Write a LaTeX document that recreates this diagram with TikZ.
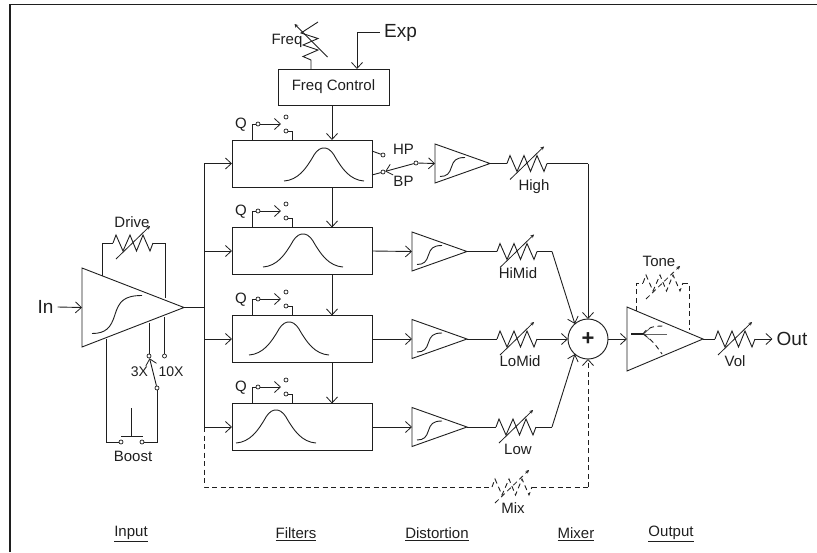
\documentclass[tikz,border=0pt]{standalone}
\usepackage{fontspec}
\setmainfont{Liberation Sans}
\usetikzlibrary{arrows.meta,calc}
\colorlet{ink}{black!88}
\tikzset{
  wire/.style={draw=ink,line width=0.9pt,line join=miter},
  conn/.style={wire,-{Straight Barb[length=6pt,width=11pt,line width=0.8pt]}},
  dashline/.style={dash pattern=on 5pt off 3.5pt},
  sweep/.style={draw=ink,line width=0.8pt,-{Stealth[length=3.5pt,width=3.5pt]}},
  term/.style={circle,draw=ink,line width=0.7pt,fill=white,inner sep=0pt,minimum size=4pt},
  fbox/.style={rectangle,draw=ink,line width=0.95pt,inner sep=0pt,outer sep=0pt,minimum width=140pt,minimum height=47pt},
  lab/.style={text=ink,inner sep=0pt,font=\fontsize{15}{17}\selectfont},
  biglab/.style={text=ink,inner sep=0pt,font=\fontsize{19}{21}\selectfont},
  sect/.style={text=ink,inner sep=0pt,font=\fontsize{15}{17}\selectfont},
  pics/rzig/.style={code={
    \coordinate (-in) at (0,0);
    \coordinate (-out) at (40,0);
    \draw[wire,pic actions] (0,0) -- (3,-8) -- (10,8) -- (17,-8) -- (23.5,8) -- (30,-8) -- (37,8) -- (40,0);
    \draw[sweep,pic actions] (3,16) -- (37,-17);
  }}
}
\newcommand{\amplifier}[6]{% name, x, yc, width, half height, scale
  \coordinate (#1-in) at (#2,#3);
  \coordinate (#1-out) at ($(#2,#3)+(#4,0)$);
  \draw[wire,shift={(#2,#3)}] (0,-#5) -- (#4,0) -- (0,#5) -- cycle;
  \draw[wire,shift={(#2,#3)},scale=#6] (5,13) .. controls (12,13) and (14.5,10) .. (16.5,3.5) .. controls (18.5,-3) and (21,-6) .. (30,-6);
}
\newcommand{\bell}[2]{% x peak, y base
  \draw[wire,shift={(#1,#2)}] (-40,0) .. controls (-26,-1) and (-18,-12) .. (-10,-26) .. controls (-6,-32) and (-3,-33) .. (0,-33) .. controls (3,-33) and (6,-32) .. (10,-26) .. controls (18,-12) and (26,-1) .. (40,0);
}
\newcommand{\qswitch}[2]{% name, top y
  \node[lab] (#1q) at (241,#2-15) {Q};
  \node[term] (#1a) at (258,#2-16) {};
  \node[term] (#1b) at (286,#2-23) {};
  \node[term] (#1c) at (286,#2-9) {};
  \coordinate (#1tip) at (281,#2-16);
  \draw[wire] (252,#2) |- (#1a);
  \draw[conn] (#1a) -- (#1tip);
  \draw[wire] (#1c) -| (292,#2);
}
\begin{document}
\begin{tikzpicture}[x=1pt,y=-1pt]
\useasboundingbox (0,0) rectangle (817,552);
% frame
\draw[draw=ink,line width=1.1pt] (10,552) -- (10,4.5) -- (817,4.5);

% input stage
\node[biglab] (in) at (45.5,307) {In};
\amplifier{ia}{82}{307.5}{102}{39.5}{2}
\draw[conn] ($(in.east)+(4,0)$) -- (ia-in);
\pic (rd) at (113,243) {rzig};
\node[lab] (drive) at (132,222) {Drive};
\draw[wire] (102,276) |- (rd-in);
\draw[wire] (rd-out) -| (165,298);
\node[term] (s3) at (149,356) {};
\node[term] (s10) at (164.5,356) {};
\node[term] (sc) at (157,388) {};
\node[term] (bl) at (121,442) {};
\node[term] (br) at (142,442) {};
\draw[wire] (149,323) -- (s3);
\draw[wire] (164.5,317) -- (s10);
\draw[conn] (sc) -- (s3);
\draw[wire] (sc) |- (br);
\draw[wire] (106,339) |- (bl);
\coordinate (bt) at (131,408);
\coordinate (bb) at (131,436);
\draw[wire] (bt) -- (bb);
\draw[wire] (121,436) -- (143,436);
\node[lab,font=\fontsize{14}{16}\selectfont] (l3x) at (139.5,372) {3X};
\node[lab,font=\fontsize{14}{16}\selectfont] (l10x) at (171,372) {10X};
\node[lab] (boost) at (133,456) {Boost};

% bus
\coordinate (bus) at (204,307.5);
\draw[draw=ink,line width=1.6pt] (ia-out) -- (bus);
\draw[wire] (204,163) -- (204,427);

% freq control
\node[rectangle,draw=ink,line width=0.95pt,inner sep=0pt,outer sep=0pt,minimum width=111pt,minimum height=36pt,lab] (fc) at (333.5,87) {Freq Control};

% filters
\node[fbox] (f1) at (302,163.5) {};
\node[fbox] (f2) at (302,251) {};
\node[fbox] (f3) at (302,339) {};
\node[fbox] (f4) at (302,427) {};
\bell{324}{181}
\bell{303}{267}
\bell{289}{355}
\bell{276}{443}
\foreach \n/\t in {a/140,b/227,c/315,d/403} {\qswitch{\n}{\t}}
\draw[conn] (204,163.5) -- (f1.west);
\draw[conn] (204,251) -- (f2.west);
\draw[conn] (204,339) -- (f3.west);
\draw[conn] (204,427) -- (f4.west);
\draw[conn] ($(fc.south)+(-1.5,0)$) -- ($(f1.north)+(30,0)$);
\draw[conn] ($(f1.south)+(30,0)$) -- ($(f2.north)+(30,0)$);
\draw[conn] ($(f2.south)+(30,0)$) -- ($(f3.north)+(30,0)$);
\draw[conn] ($(f3.south)+(30,0)$) -- ($(f4.north)+(30,0)$);

% freq pot and exp
\draw[wire] (311,69) -- (311,60) -- (303,56.5) -- (318,50) -- (303,45) -- (318,38.5) -- (301,33) -- (318,22);
\draw[sweep] (327.5,57) -- (294.5,24);
\node[lab] (lfreq) at (287,41) {Freq};
\node[biglab] (exp) at (400.5,33) {Exp};
\coordinate (ec) at (357,32.5);
\draw[wire] ($(exp.west)+(-4,-0.5)$) -- (ec);
\draw[conn] (ec) -- (ec |- fc.north);

% HP/BP
\node[term] (hp) at (383,155) {};
\node[term] (bp) at (383,172) {};
\node[term] (sw) at (416,163) {};
\draw[wire] (372,151) -- (hp);
\draw[wire] (372,175) -- (bp);
\node[lab] (lhp) at (403.5,149) {HP};
\node[lab] (lbp) at (403.5,181) {BP};

% distortion
\amplifier{d1}{435}{163.5}{55}{19.5}{1}
\amplifier{d2}{412}{251.5}{55}{19.5}{1}
\amplifier{d3}{412}{339}{55}{19.5}{1}
\amplifier{d4}{412}{427}{55}{19.5}{1}
\draw[conn] (sw) -- (bp);
\draw[conn] (sw) -- (d1-in);
\draw[conn] (f2.east) -- (d2-in);
\draw[conn] (f3.east) -- (d3-in);
\draw[conn] (f4.east) -- (d4-in);

% level pots
\pic (r1) at (507,163.5) {rzig};
\pic (r2) at (497,251.5) {rzig};
\pic (r3) at (497,339) {rzig};
\pic (r4) at (496,427) {rzig};
\node[lab] (lhigh) at (534,187) {High};
\node[lab] (lhimid) at (518,273) {HiMid};
\node[lab] (llomid) at (520,361) {LoMid};
\node[lab] (llow) at (518,449) {Low};
\draw[wire] (d1-out) -- (r1-in);
\draw[wire] (d2-out) -- (r2-in);
\draw[wire] (d3-out) -- (r3-in);
\draw[wire] (d4-out) -- (r4-in);

% mixer
\node[circle,draw=ink,line width=0.95pt,inner sep=0pt,outer sep=0pt,minimum size=40pt,text=ink,font=\fontsize{22}{24}\bfseries\selectfont] (mx) at (588,339) {+};
\coordinate (c1) at (588,163.5);
\coordinate (c2) at (552,251.5);
\coordinate (c4) at (552,427);
\draw[wire] (r1-out) -- (c1);
\draw[conn] (c1) -- (mx.north);
\draw[wire] (r2-out) -- (c2);
\draw[conn] (c2) -- (mx.131);
\draw[conn] (r3-out) -- (mx.west);
\draw[wire] (r4-out) -- (c4);
\draw[conn] (c4) -- (mx.229);

% mix path
\pic[dashline] (rm) at (492,487) {rzig};
\node[lab] (lmix) at (513,508) {Mix};
\coordinate (md) at (588,487);
\draw[wire,dashline] (204,427) |- (rm-in);
\draw[wire,dashline] (rm-out) -- (md);
\draw[conn,dashline] (md) -- (mx.south);

% output
\coordinate (oa-in) at (627,339);
\coordinate (oa-out) at (703,339);
\draw[wire] (627,307) -- (oa-out) -- (627,371) -- cycle;
\draw[conn] (mx.east) -- (oa-in);
\coordinate (tl) at (636,311);
\coordinate (tr) at (689,330);
\pic[dashline] (rt) at (643,283) {rzig};
\draw[wire,dashline] (tl) |- (rt-in);
\draw[wire,dashline] (rt-out) -| (tr);
\node[lab] (ltone) at (659,261) {Tone};
\coordinate (ip) at (643,334);
\draw[draw=ink,line width=1.6pt] (631,334) -- (ip);
\draw[conn,draw=ink!70] (667,334) -- (ip);
\draw[wire,dashline] (ip) .. controls (648,327) and (653,326) .. (665,326);
\draw[wire,dashline] (ip) .. controls (650,338) and (656,345) .. (662,354);
\pic (rv) at (715,339) {rzig};
\node[lab] (lvol) at (735,361) {Vol};
\node[biglab] (out) at (792,339) {Out};
\draw[wire] (oa-out) -- (rv-in);
\draw[conn] (rv-out) -- ($(out.west)+(-4,0)$);

% section labels
\node[sect] (s1) at (131,534) {\underline{Input}};
\node[sect] (s2) at (296,534) {\underline{Filters}};
\node[sect] (s3l) at (437,534) {\underline{Distortion}};
\node[sect] (s4) at (576,534) {\underline{Mixer}};
\node[sect] (s5) at (671,534) {\underline{Output}};
\end{tikzpicture}
\end{document}
